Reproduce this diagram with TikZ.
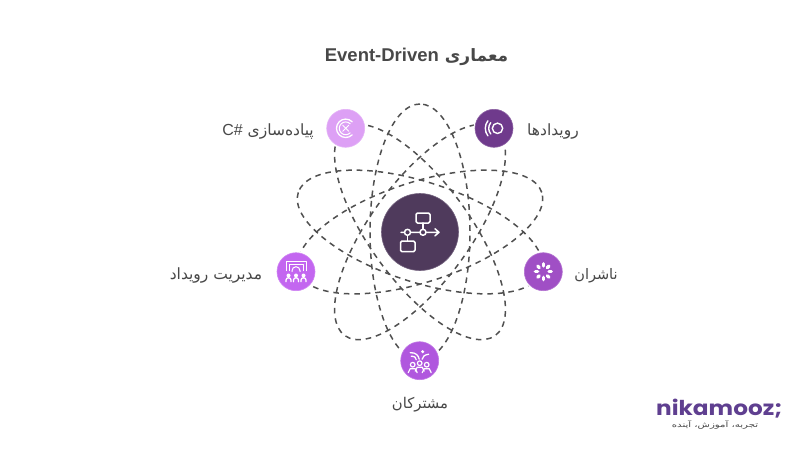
\documentclass[tikz,border=0pt]{standalone}
\usepackage{fontspec}
\setmainfont{Liberation Sans}
\newfontfamily\arabicfont[Script=Arabic]{DejaVu Sans}
\newfontfamily\logofont{Poppins}
\TeXXeTstate=1
\definecolor{txt}{HTML}{484848}
\definecolor{dash}{HTML}{505050}
\definecolor{cen}{HTML}{4F3A5C}
\definecolor{csh}{HTML}{DDA0F5}
\definecolor{evt}{HTML}{6F3A8C}
\definecolor{mgr}{HTML}{C366F0}
\definecolor{pub}{HTML}{A04FC5}
\definecolor{sbs}{HTML}{B057DE}
\definecolor{logo}{HTML}{5F3F90}
\tikzset{
  orbit/.style={draw=dash,line width=1.5pt,dash pattern=on 5.6pt off 4.9pt},
  hub/.style={circle,minimum size=38pt,inner sep=0pt,line width=0.6pt},
  halo/.style={circle,fill=white,minimum size=41pt,inner sep=0pt},
  ico/.style={draw=white,line width=1.3pt,line cap=round,line join=round},
  lab/.style={text=txt,font=\arabicfont\fontsize{15.5}{18}\selectfont,inner sep=0pt},
}
\begin{document}
\begin{tikzpicture}[x=1pt,y=-1pt]
\useasboundingbox[fill=white] (0,0) rectangle (800,450);
\coordinate (o) at (420,232);
% orbits
\foreach \a in {90,54,126,18,162}
  \draw[orbit,rotate around={\a:(o)}] (o) circle[x radius=128pt,y radius=50pt];
% halos + hubs
\foreach \n/\x/\y/\c in {c/345.7/128.3/csh,e/494/128.3/evt,m/296/271.7/mgr,p/543.3/271.7/pub,s/419.7/360.7/sbs}{
  \node[halo] at (\x,\y) {};
  \node[hub,fill=\c,draw=\c!80!white] (\n) at (\x,\y) {};
}
% centre
\node[circle,minimum size=77pt,inner sep=0pt,fill=cen,draw=cen!80!white,line width=0.6pt] (hubc) at (o) {};
\begin{scope}[shift={(420,232)}]
  \draw[ico,line width=1.5pt] (-19,0.3) -- (18.5,0.3) (15,-3.2) -- (19,0.3) -- (15,3.8);
  \draw[ico,line width=1.5pt,rounded corners=1.5pt] (-4,-19) rectangle (10,-9);
  \draw[ico,line width=1.5pt] (3,-9) -- (3,-2.7) (-12.5,3) -- (-12.5,9);
  \draw[ico,line width=1.5pt,rounded corners=1.5pt] (-19.5,9) rectangle (-5,19.7);
  \draw[ico,line width=1.5pt,fill=cen] (3,0.3) circle[radius=3pt] (-12.5,0.3) circle[radius=3pt];
\end{scope}
% C# icon
\begin{scope}[shift={(c)}]
  \draw[ico] (6.5,-6.5) arc[start angle=45,end angle=315,radius=9.2pt];
  \draw[ico,line width=1pt] (4.5,-4.5) arc[start angle=45,end angle=315,radius=6.4pt];
  \draw[ico,line width=0.9pt] (-3,-3) -- (3,3) (-3,3) -- (3,-3);
\end{scope}
% events icon
\begin{scope}[shift={(e)}]
  \draw[ico,line width=1.4pt] (3.5,0) circle[radius=5.2pt];
  \draw[ico,line width=1.4pt] (3.5,0) ++(140:8.8pt) arc[start angle=140,end angle=220,radius=8.8pt];
  \draw[ico,line width=1.4pt] (3.5,0) ++(142:12.2pt) arc[start angle=142,end angle=218,radius=12.2pt];
\end{scope}
% manager icon
\begin{scope}[shift={(m)}]
  \draw[ico,line width=1pt] (-10,-1) -- (-10,-10) -- (10,-10) -- (10,-1);
  \draw[ico,line width=1pt] (-7,-1) -- (-7,-7) -- (7,-7) -- (7,-1);
  \draw[ico,line width=1pt] (-4,0) -- (-4,-1) arc[start angle=180,end angle=0,radius=4pt] -- (4,0);
  \foreach \dx in {-7.5,0,7.5}{
    \fill[white] (\dx,3.8) circle[radius=2pt];
    \draw[ico,line width=1.3pt] (\dx-2.5,10) -- (\dx-2.5,8.5) arc[start angle=180,end angle=0,radius=2.5pt] -- (\dx+2.5,10);
  }
\end{scope}
% publishers icon
\begin{scope}[shift={(p)}]
  \foreach \a in {0,45,...,315}
    \draw[white,line width=3.2pt,line cap=round] (\a:5.6pt) -- (\a:8pt);
\end{scope}
% subscribers icon
\begin{scope}[shift={(s)}]
  \draw[ico] (-9.5,-8) .. controls (-4,-8.5) and (-1,-5) .. (-0.5,-1.5);
  \draw[ico] (-8.5,-4.5) .. controls (-5,-4.5) and (-3.5,-3) .. (-3.5,-1);
  \draw[ico] (2.5,-1.5) .. controls (2.5,-4) and (5,-6) .. (9,-6.5);
  \fill[white] (3,-9) circle[radius=1.7pt];
  \foreach \dx/\dy in {-7/4,0/2.5,7/4}{
    \draw[ico,line width=1.2pt] (\dx,\dy) circle[radius=2.3pt];
    \draw[ico,line width=1.2pt] (\dx-4.5,\dy+8) -- (\dx-2.5,\dy+4) -- (\dx+2.5,\dy+4) -- (\dx+4.5,\dy+8);
  }
\end{scope}
% labels
\node[lab] (lc) at (268,132) {\beginR پیاده‌سازی \beginL{\fontspec{Liberation Sans}\fontsize{16}{18}\selectfont C\#}\endL\endR};
\node[lab] (le) at (553,132) {\beginR رویدادها\endR};
\node[lab] (lm) at (216,275) {\beginR مدیریت رویداد\endR};
\node[lab,font=\arabicfont\fontsize{14.5}{18}\selectfont] (lp) at (596,276) {\beginR ناشران\endR};
\node[lab,font=\arabicfont\fontsize{14.8}{18}\selectfont] (ls) at (420,405) {\beginR مشترکان\endR};
% title
\node[text=txt,inner sep=0pt] (title) at (416.5,57) {\arabicfont\bfseries\fontsize{17}{20}\selectfont\beginR معماری \beginL{\fontspec{Liberation Sans}[BoldFont=Liberation Sans Bold]\bfseries\fontsize{18.5}{20}\selectfont Event-Driven}\endL\endR};
% logo
\node[text=logo,inner sep=0pt,anchor=base west,xscale=1.13] (logoa) at (656,415) {\logofont\bfseries\fontsize{20.5}{22}\selectfont nikamooz;};
\node[text=txt,inner sep=0pt,xscale=1.35] (logob) at (715,424.5) {\arabicfont\fontsize{7.5}{9}\selectfont\beginR تجربه، آموزش، آینده\endR};
\end{tikzpicture}
\end{document}
